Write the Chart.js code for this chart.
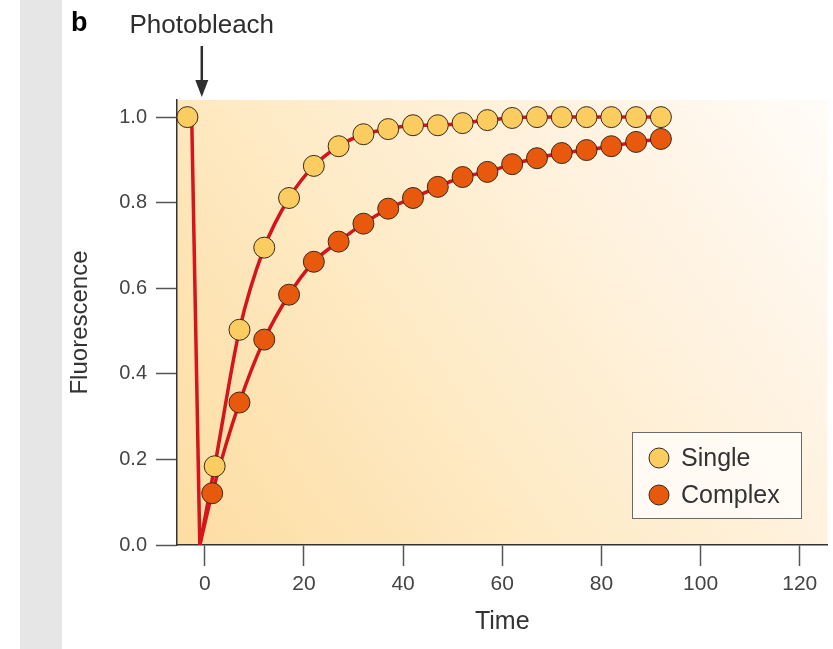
<!DOCTYPE html>
<html>
<head>
<meta charset="utf-8">
<title>Photobleach recovery</title>
<script src="https://cdn.jsdelivr.net/npm/chart.js@4.4.0/dist/chart.umd.min.js"></script>
<style>
html, body { margin: 0; padding: 0; background: #fff; }
body { width: 833px; height: 649px; position: relative; overflow: hidden; }
#strip { position: absolute; left: 20px; top: 0; width: 42px; height: 649px; background: #e6e6e6; }
/* a little wider than the page: the x scale keeps ~11px free on its right */
#wrap { position: absolute; left: 0; top: 0; width: 839px; height: 649px; }
</style>
</head>
<body>
<div id="strip"></div>
<div id="wrap"><canvas id="chart"></canvas></div>
<script>
// ── DATA ──
const singleTime   = [-3.5, 2, 7, 12, 17, 22, 27, 32, 37, 42, 47, 52, 57, 62, 67, 72, 77, 82, 87, 92];
const singleFluor  = [1.0, 0.184, 0.503, 0.695, 0.811, 0.886, 0.932, 0.96, 0.972, 0.981, 0.981, 0.986, 0.993, 0.998, 1.0, 1.0, 1.0, 1.0, 1.0, 1.0];
const complexTime  = [1.5, 7, 12, 17, 22, 27, 32, 37, 42, 47, 52, 57, 62, 67, 72, 77, 82, 87, 92];
const complexFluor = [0.121, 0.333, 0.48, 0.585, 0.662, 0.709, 0.751, 0.786, 0.811, 0.837, 0.86, 0.872, 0.89, 0.904, 0.916, 0.923, 0.932, 0.942, 0.949];
// bleach drop: pre-bleach level straight down to zero
const bleachTime  = [-2.6, -1];
const bleachFluor = [0.98, 0];
const xTicks = [0, 20, 40, 60, 80, 100, 120];
const yTicks = [0, 0.2, 0.4, 0.6, 0.8, 1.0];

// ── STYLE ──
const RED = '#d5141b';
const SINGLE_FILL = '#fbcd60';
const COMPLEX_FILL = '#e8590d';
const EDGE = '#3a2a1a';
const FONT = '"Liberation Sans", Arial, sans-serif';

const pts = (xs, ys) => xs.map((x, i) => ({ x, y: ys[i] }));
const start = { x: bleachTime[1], y: bleachFluor[1] };

// fit curves start at the bleach minimum and run through the recovery points
const singleCurve  = [start].concat(pts(singleTime.slice(1), singleFluor.slice(1)));
const complexCurve = [start].concat(pts(complexTime, complexFluor));

// ── PLUGINS ──
const plotBg = {
  id: 'plotBg',
  beforeDraw(chart) {
    const { ctx, chartArea: a } = chart;
    const g = ctx.createLinearGradient(a.left, a.bottom, a.right, a.top);
    g.addColorStop(0,    '#fddda2');
    g.addColorStop(0.45, '#feecca');
    g.addColorStop(0.8,  '#fff5e8');
    g.addColorStop(1,    '#fffcf8');
    ctx.save();
    ctx.fillStyle = g;
    ctx.fillRect(a.left, a.top, a.right - a.left, a.bottom - a.top);
    ctx.restore();
  }
};

const decor = {
  id: 'decor',
  afterDraw(chart) {
    const { ctx } = chart;
    const xs = chart.scales.x;
    ctx.save();

    // panel letter
    ctx.fillStyle = '#000';
    ctx.font = 'bold 27px ' + FONT;
    ctx.textBaseline = 'alphabetic';
    ctx.textAlign = 'left';
    ctx.fillText('b', 71, 31);

    // photobleach marker
    const ax = xs.getPixelForValue(-0.6);
    ctx.fillStyle = '#2e2e2e';
    ctx.font = '26px ' + FONT;
    ctx.textAlign = 'center';
    ctx.fillText('Photobleach', ax, 33);
    ctx.strokeStyle = '#2e2e2e';
    ctx.lineWidth = 2.5;
    ctx.beginPath(); ctx.moveTo(ax, 46); ctx.lineTo(ax, 86); ctx.stroke();
    ctx.beginPath();
    ctx.moveTo(ax - 6.5, 80); ctx.lineTo(ax + 6.5, 80); ctx.lineTo(ax, 97);
    ctx.closePath(); ctx.fill();

    // legend box
    ctx.fillStyle = 'rgba(255,251,245,0.95)';
    ctx.fillRect(632, 432, 170, 87);
    ctx.strokeStyle = '#6a6a6a';
    ctx.lineWidth = 1;
    ctx.strokeRect(632.5, 432.5, 169, 86);
    const items = [['Single', SINGLE_FILL, 458], ['Complex', COMPLEX_FILL, 495]];
    items.forEach(([label, fill, y]) => {
      ctx.beginPath();
      ctx.arc(659, y, 10, 0, Math.PI * 2);
      ctx.fillStyle = fill; ctx.fill();
      ctx.strokeStyle = EDGE; ctx.lineWidth = 1; ctx.stroke();
      ctx.fillStyle = '#333';
      ctx.font = '25px ' + FONT;
      ctx.textAlign = 'left';
      ctx.textBaseline = 'middle';
      ctx.fillText(label, 681, y + 1);
    });
    ctx.restore();
  }
};

// ── CHART ──
const markerSet = (label, data, fill) => ({
  label, data,
  showLine: false,
  pointRadius: 10.5,
  pointBackgroundColor: fill,
  pointBorderColor: EDGE,
  pointBorderWidth: 1,
});
const curveSet = (label, data) => ({
  label, data,
  borderColor: RED,
  borderWidth: 3.5,
  pointRadius: 0,
  cubicInterpolationMode: 'monotone',
  fill: false,
});

new Chart(document.getElementById('chart'), {
  type: 'scatter',
  data: {
    datasets: [
      markerSet('Single', pts(singleTime, singleFluor), SINGLE_FILL),
      markerSet('Complex', pts(complexTime, complexFluor), COMPLEX_FILL),
      curveSet('Single fit', singleCurve),
      curveSet('Complex fit', complexCurve),
      Object.assign(curveSet('Bleach', pts(bleachTime, bleachFluor)), { cubicInterpolationMode: 'default', tension: 0 }),
    ]
  },
  options: {
    animation: false,
    responsive: true,
    maintainAspectRatio: false,
    layout: { padding: { left: 62, right: 5, top: 100, bottom: 0 } },
    datasets: { scatter: { showLine: true } },
    scales: {
      x: {
        type: 'linear',
        min: -5.6, max: 125.6,
        afterBuildTicks: s => { s.ticks = xTicks.map(v => ({ value: v })); },
        afterFit: s => { s.height = 104; },
        ticks: { color: '#444', font: { family: FONT, size: 21 }, padding: 6, maxRotation: 0, autoSkip: false },
        grid: { drawOnChartArea: false, drawTicks: true, tickLength: 21, tickColor: '#555', tickWidth: 1.5 },
        border: { color: '#333', width: 1.5 },
        title: { display: true, text: 'Time', color: '#333', font: { family: FONT, size: 25 }, padding: { top: 0, bottom: 12 } }
      },
      y: {
        type: 'linear',
        min: 0, max: 1.04,
        afterBuildTicks: s => { s.ticks = yTicks.map(v => ({ value: v })); },
        afterFit: s => { s.width = 115; },
        ticks: { color: '#444', font: { family: FONT, size: 20 }, padding: 9, callback: v => v.toFixed(1) },
        grid: { drawOnChartArea: false, drawTicks: true, tickLength: 21, tickColor: '#555', tickWidth: 1.5 },
        border: { color: '#333', width: 1.5 },
        title: { display: true, text: 'Fluorescence', color: '#333', font: { family: FONT, size: 24 }, padding: { top: 4, bottom: 0 } }
      }
    },
    plugins: { legend: { display: false }, tooltip: { enabled: false } }
  },
  plugins: [plotBg, decor]
});
</script>
</body>
</html>
